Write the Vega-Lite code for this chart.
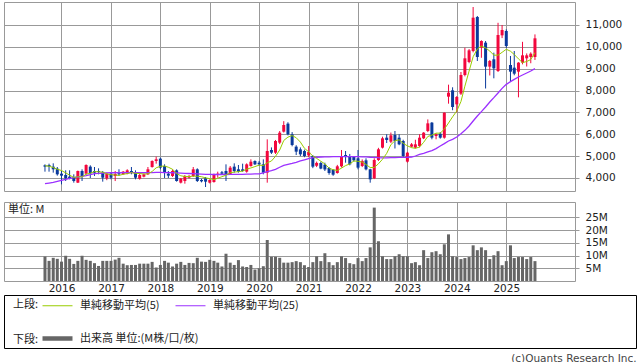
{
"$schema": "https://vega.github.io/schema/vega-lite/v6.json",
"padding": {"left": 3, "top": 1, "right": 0, "bottom": 0},
"background": "white",
"title": {"text": "(c)Quants Research Inc.", "orient": "bottom", "anchor": "end", "font": "DejaVu Sans", "fontSize": 10.5, "fontWeight": "normal", "color": "#444444", "offset": 5},
"config": {
  "view": {"stroke": "#999999", "strokeWidth": 1},
  "axis": {"labelFont": "DejaVu Sans", "labelFontSize": 10.5, "labelColor": "#222222", "gridColor": "#999999", "gridWidth": 1, "gridOpacity": 1, "tickColor": "#999999", "domain": false, "title": null},
  "legend": {"labelFont": "Noto Sans CJK JP", "labelFontSize": 11, "labelColor": "#222222", "titleFont": "Noto Sans CJK JP", "titleFontSize": 11, "titleFontWeight": "normal", "titleColor": "#222222"}
},
"datasets": {
"ohlc": [
{"date":"2015-09-01","open":4580,"high":4625,"low":4290,"close":4519,"ma5":4560,"ma25":3741,"vol":9.6},
{"date":"2015-10-01","open":4595,"high":4656,"low":4290,"close":4519,"ma5":4540,"ma25":3770,"vol":7.9},
{"date":"2015-11-01","open":4519,"high":4671,"low":4244,"close":4397,"ma5":4480,"ma25":3802,"vol":9.1},
{"date":"2015-12-01","open":4427,"high":4503,"low":4107,"close":4168,"ma5":4400,"ma25":3850,"vol":8.7},
{"date":"2016-01-01","open":4198,"high":4320,"low":3710,"close":4107,"ma5":4342,"ma25":3893,"vol":7.6},
{"date":"2016-02-01","open":4137,"high":4351,"low":3863,"close":3985,"ma5":4235,"ma25":3940,"vol":9.9},
{"date":"2016-03-01","open":4061,"high":4351,"low":3939,"close":4000,"ma5":4131,"ma25":3985,"vol":8.7},
{"date":"2016-04-01","open":4030,"high":4168,"low":3787,"close":3863,"ma5":4025,"ma25":4015,"vol":6.7},
{"date":"2016-05-01","open":3787,"high":4340,"low":3770,"close":4320,"ma5":4055,"ma25":4046,"vol":7.9},
{"date":"2016-06-01","open":4320,"high":4397,"low":3863,"close":4092,"ma5":4052,"ma25":4075,"vol":9.9},
{"date":"2016-07-01","open":4198,"high":4625,"low":4150,"close":4595,"ma5":4174,"ma25":4107,"vol":8.3},
{"date":"2016-08-01","open":4519,"high":4580,"low":4000,"close":4214,"ma5":4217,"ma25":4150,"vol":7.9},
{"date":"2016-09-01","open":4320,"high":4503,"low":4092,"close":4244,"ma5":4293,"ma25":4198,"vol":7.0},
{"date":"2016-10-01","open":4320,"high":4442,"low":4168,"close":4275,"ma5":4284,"ma25":4215,"vol":5.9},
{"date":"2016-11-01","open":4244,"high":4320,"low":3832,"close":4015,"ma5":4269,"ma25":4229,"vol":7.9},
{"date":"2016-12-01","open":3985,"high":4250,"low":3900,"close":4198,"ma5":4189,"ma25":4235,"vol":7.9},
{"date":"2017-01-01","open":4198,"high":4240,"low":3940,"close":4015,"ma5":4149,"ma25":4240,"vol":7.9},
{"date":"2017-02-01","open":4092,"high":4320,"low":3860,"close":4183,"ma5":4137,"ma25":4240,"vol":8.4},
{"date":"2017-03-01","open":4214,"high":4400,"low":4100,"close":4168,"ma5":4116,"ma25":4245,"vol":9.1},
{"date":"2017-04-01","open":4168,"high":4320,"low":4150,"close":4290,"ma5":4171,"ma25":4245,"vol":6.8},
{"date":"2017-05-01","open":4198,"high":4400,"low":4168,"close":4351,"ma5":4201,"ma25":4250,"vol":6.2},
{"date":"2017-06-01","open":4320,"high":4503,"low":4168,"close":4229,"ma5":4244,"ma25":4250,"vol":6.3},
{"date":"2017-07-01","open":4244,"high":4351,"low":3939,"close":4015,"ma5":4211,"ma25":4245,"vol":6.3},
{"date":"2017-08-01","open":3970,"high":4200,"low":3924,"close":4137,"ma5":4204,"ma25":4240,"vol":6.8},
{"date":"2017-09-01","open":4061,"high":4200,"low":4030,"close":4168,"ma5":4180,"ma25":4240,"vol":6.8},
{"date":"2017-10-01","open":4168,"high":4503,"low":4137,"close":4397,"ma5":4189,"ma25":4245,"vol":6.8},
{"date":"2017-11-01","open":4503,"high":4808,"low":4473,"close":4778,"ma5":4299,"ma25":4250,"vol":7.5},
{"date":"2017-12-01","open":4778,"high":4976,"low":4656,"close":4854,"ma5":4467,"ma25":4255,"vol":5.3},
{"date":"2018-01-01","open":4885,"high":4930,"low":4397,"close":4473,"ma5":4534,"ma25":4255,"vol":6.3},
{"date":"2018-02-01","open":4549,"high":4625,"low":4000,"close":4244,"ma5":4549,"ma25":4250,"vol":7.9},
{"date":"2018-03-01","open":4198,"high":4320,"low":4000,"close":4107,"ma5":4491,"ma25":4245,"vol":7.2},
{"date":"2018-04-01","open":4092,"high":4397,"low":4046,"close":4320,"ma5":4400,"ma25":4240,"vol":5.7},
{"date":"2018-05-01","open":4351,"high":4397,"low":3832,"close":3863,"ma5":4201,"ma25":4230,"vol":6.8},
{"date":"2018-06-01","open":3787,"high":4000,"low":3750,"close":3970,"ma5":4101,"ma25":4220,"vol":7.5},
{"date":"2018-07-01","open":3863,"high":4137,"low":3740,"close":4092,"ma5":4070,"ma25":4210,"vol":6.3},
{"date":"2018-08-01","open":4015,"high":4137,"low":3980,"close":4092,"ma5":4067,"ma25":4205,"vol":7.1},
{"date":"2018-09-01","open":4092,"high":4503,"low":4046,"close":4397,"ma5":4083,"ma25":4200,"vol":7.0},
{"date":"2018-10-01","open":4397,"high":4442,"low":3817,"close":3863,"ma5":4083,"ma25":4190,"vol":9.1},
{"date":"2018-11-01","open":3909,"high":3960,"low":3800,"close":3848,"ma5":4058,"ma25":4180,"vol":7.6},
{"date":"2018-12-01","open":3985,"high":4046,"low":3588,"close":3832,"ma5":4006,"ma25":4170,"vol":7.5},
{"date":"2019-01-01","open":3787,"high":3940,"low":3750,"close":3909,"ma5":3970,"ma25":4165,"vol":8.3},
{"date":"2019-02-01","open":3817,"high":4198,"low":3787,"close":4168,"ma5":3924,"ma25":4160,"vol":7.9},
{"date":"2019-03-01","open":4137,"high":4290,"low":4015,"close":4198,"ma5":3991,"ma25":4160,"vol":7.2},
{"date":"2019-04-01","open":4259,"high":4320,"low":4137,"close":4198,"ma5":4061,"ma25":4160,"vol":5.7},
{"date":"2019-05-01","open":4320,"high":4625,"low":3863,"close":4168,"ma5":4128,"ma25":4160,"vol":10.7},
{"date":"2019-06-01","open":4168,"high":4549,"low":4137,"close":4473,"ma5":4241,"ma25":4165,"vol":7.2},
{"date":"2019-07-01","open":4519,"high":4671,"low":4244,"close":4320,"ma5":4271,"ma25":4165,"vol":6.3},
{"date":"2019-08-01","open":4397,"high":4595,"low":4244,"close":4290,"ma5":4290,"ma25":4170,"vol":8.2},
{"date":"2019-09-01","open":4397,"high":4656,"low":4290,"close":4320,"ma5":4314,"ma25":4170,"vol":5.7},
{"date":"2019-10-01","open":4290,"high":4671,"low":4244,"close":4625,"ma5":4406,"ma25":4175,"vol":5.5},
{"date":"2019-11-01","open":4549,"high":4854,"low":4519,"close":4747,"ma5":4460,"ma25":4180,"vol":6.3},
{"date":"2019-12-01","open":4778,"high":4808,"low":4595,"close":4625,"ma5":4521,"ma25":4185,"vol":4.5},
{"date":"2020-01-01","open":4700,"high":4780,"low":4550,"close":4625,"ma5":4588,"ma25":4190,"vol":5.0},
{"date":"2020-02-01","open":4625,"high":4854,"low":4168,"close":4244,"ma5":4573,"ma25":4229,"vol":5.8},
{"date":"2020-03-01","open":4244,"high":5769,"low":3786,"close":5235,"ma5":4695,"ma25":4290,"vol":16.1},
{"date":"2020-04-01","open":5281,"high":5400,"low":5100,"close":5159,"ma5":4778,"ma25":4340,"vol":9.5},
{"date":"2020-05-01","open":5159,"high":5740,"low":5100,"close":5693,"ma5":4991,"ma25":4397,"vol":9.5},
{"date":"2020-06-01","open":5617,"high":6150,"low":5550,"close":6074,"ma5":5281,"ma25":4490,"vol":9.1},
{"date":"2020-07-01","open":6120,"high":6600,"low":6080,"close":6425,"ma5":5717,"ma25":4580,"vol":7.2},
{"date":"2020-08-01","open":6486,"high":6550,"low":5950,"close":5998,"ma5":5870,"ma25":4625,"vol":7.2},
{"date":"2020-09-01","open":5998,"high":6100,"low":5450,"close":5510,"ma5":5940,"ma25":4671,"vol":7.4},
{"date":"2020-10-01","open":5434,"high":5500,"low":5050,"close":5205,"ma5":5842,"ma25":4720,"vol":7.8},
{"date":"2020-11-01","open":5310,"high":5400,"low":5000,"close":5083,"ma5":5644,"ma25":4778,"vol":7.4},
{"date":"2020-12-01","open":5235,"high":5300,"low":4950,"close":5006,"ma5":5360,"ma25":4830,"vol":6.2},
{"date":"2021-01-01","open":5037,"high":5464,"low":4950,"close":5190,"ma5":5199,"ma25":4885,"vol":5.5},
{"date":"2021-02-01","open":5006,"high":5050,"low":4450,"close":4519,"ma5":5001,"ma25":4930,"vol":7.4},
{"date":"2021-03-01","open":4560,"high":4750,"low":4500,"close":4690,"ma5":4898,"ma25":4950,"vol":9.7},
{"date":"2021-04-01","open":4686,"high":4750,"low":4400,"close":4430,"ma5":4767,"ma25":4960,"vol":7.8},
{"date":"2021-05-01","open":4610,"high":4700,"low":4320,"close":4390,"ma5":4644,"ma25":4965,"vol":10.9},
{"date":"2021-06-01","open":4457,"high":4500,"low":4150,"close":4229,"ma5":4452,"ma25":4970,"vol":7.4},
{"date":"2021-07-01","open":4381,"high":4400,"low":4100,"close":4152,"ma5":4378,"ma25":4975,"vol":6.2},
{"date":"2021-08-01","open":4229,"high":4600,"low":4200,"close":4534,"ma5":4347,"ma25":4975,"vol":7.4},
{"date":"2021-09-01","open":4534,"high":5281,"low":4480,"close":4960,"ma5":4453,"ma25":4980,"vol":9.7},
{"date":"2021-10-01","open":5052,"high":5235,"low":4700,"close":4961,"ma5":4567,"ma25":4980,"vol":9.0},
{"date":"2021-11-01","open":5006,"high":5100,"low":4580,"close":4625,"ma5":4646,"ma25":4980,"vol":7.0},
{"date":"2021-12-01","open":4961,"high":5000,"low":4750,"close":4808,"ma5":4778,"ma25":4980,"vol":6.6},
{"date":"2022-01-01","open":4900,"high":5281,"low":4397,"close":4473,"ma5":4765,"ma25":4975,"vol":9.0},
{"date":"2022-02-01","open":4550,"high":4850,"low":4500,"close":4780,"ma5":4729,"ma25":4970,"vol":7.8},
{"date":"2022-03-01","open":4808,"high":4900,"low":4350,"close":4397,"ma5":4617,"ma25":4965,"vol":9.0},
{"date":"2022-04-01","open":4397,"high":4420,"low":3786,"close":3939,"ma5":4479,"ma25":4950,"vol":13.2},
{"date":"2022-05-01","open":3985,"high":4900,"low":3950,"close":4824,"ma5":4483,"ma25":4940,"vol":28.8},
{"date":"2022-06-01","open":4824,"high":5380,"low":4780,"close":5312,"ma5":4650,"ma25":4930,"vol":15.6},
{"date":"2022-07-01","open":5388,"high":5890,"low":5350,"close":5815,"ma5":4857,"ma25":4925,"vol":9.7},
{"date":"2022-08-01","open":5845,"high":6000,"low":5600,"close":5739,"ma5":5126,"ma25":4925,"vol":8.6},
{"date":"2022-09-01","open":5662,"high":6080,"low":5600,"close":5952,"ma5":5528,"ma25":4930,"vol":8.6},
{"date":"2022-10-01","open":5967,"high":6150,"low":5350,"close":5693,"ma5":5702,"ma25":4935,"vol":9.7},
{"date":"2022-11-01","open":5845,"high":6000,"low":5500,"close":5540,"ma5":5748,"ma25":4940,"vol":10.5},
{"date":"2022-12-01","open":5693,"high":5750,"low":4930,"close":5006,"ma5":5586,"ma25":4945,"vol":9.7},
{"date":"2023-01-01","open":4747,"high":5200,"low":4700,"close":5159,"ma5":5470,"ma25":4950,"vol":9.7},
{"date":"2023-02-01","open":5434,"high":5600,"low":5400,"close":5540,"ma5":5388,"ma25":4960,"vol":7.0},
{"date":"2023-03-01","open":5388,"high":5750,"low":5350,"close":5540,"ma5":5357,"ma25":5006,"vol":7.4},
{"date":"2023-04-01","open":5464,"high":6000,"low":5400,"close":5845,"ma5":5418,"ma25":5083,"vol":6.2},
{"date":"2023-05-01","open":5815,"high":6100,"low":5780,"close":6074,"ma5":5632,"ma25":5128,"vol":12.1},
{"date":"2023-06-01","open":6150,"high":6680,"low":6100,"close":6500,"ma5":5900,"ma25":5190,"vol":9.0},
{"date":"2023-07-01","open":6532,"high":6560,"low":5770,"close":5845,"ma5":5961,"ma25":5250,"vol":11.3},
{"date":"2023-08-01","open":5922,"high":6050,"low":5770,"close":5998,"ma5":6052,"ma25":5342,"vol":11.7},
{"date":"2023-09-01","open":6028,"high":6100,"low":5800,"close":5845,"ma5":6052,"ma25":5464,"vol":10.5},
{"date":"2023-10-01","open":5845,"high":7000,"low":5800,"close":6989,"ma5":6235,"ma25":5571,"vol":14.4},
{"date":"2023-11-01","open":7721,"high":8270,"low":7400,"close":7904,"ma5":6516,"ma25":5693,"vol":18.3},
{"date":"2023-12-01","open":8011,"high":8150,"low":7100,"close":7248,"ma5":6797,"ma25":5769,"vol":9.7},
{"date":"2024-01-01","open":7370,"high":7750,"low":7000,"close":7706,"ma5":7065,"ma25":5876,"vol":9.4},
{"date":"2024-02-01","open":7858,"high":8850,"low":7800,"close":8712,"ma5":7500,"ma25":6028,"vol":8.6},
{"date":"2024-03-01","open":8712,"high":9960,"low":8650,"close":9475,"ma5":8200,"ma25":6180,"vol":9.0},
{"date":"2024-04-01","open":9307,"high":9900,"low":9250,"close":9841,"ma5":8890,"ma25":6379,"vol":9.4},
{"date":"2024-05-01","open":9810,"high":11823,"low":9750,"close":11335,"ma5":9550,"ma25":6608,"vol":14.0},
{"date":"2024-06-01","open":11366,"high":11412,"low":9353,"close":9536,"ma5":9900,"ma25":6837,"vol":12.1},
{"date":"2024-07-01","open":9963,"high":10300,"low":9500,"close":10268,"ma5":10040,"ma25":7035,"vol":13.2},
{"date":"2024-08-01","open":10192,"high":10268,"low":8095,"close":9094,"ma5":9950,"ma25":7248,"vol":12.1},
{"date":"2024-09-01","open":9094,"high":9400,"low":8690,"close":9353,"ma5":9810,"ma25":7477,"vol":8.6},
{"date":"2024-10-01","open":9430,"high":9734,"low":8560,"close":9017,"ma5":9620,"ma25":7675,"vol":10.1},
{"date":"2024-11-01","open":8895,"high":11100,"low":8850,"close":10542,"ma5":9620,"ma25":7889,"vol":11.7},
{"date":"2024-12-01","open":10527,"high":11000,"low":10400,"close":10771,"ma5":9750,"ma25":8102,"vol":6.2},
{"date":"2025-01-01","open":10725,"high":10800,"low":9950,"close":10039,"ma5":9890,"ma25":8285,"vol":7.8},
{"date":"2025-02-01","open":9170,"high":9582,"low":8430,"close":8865,"ma5":9800,"ma25":8407,"vol":14.0},
{"date":"2025-03-01","open":9048,"high":9810,"low":8700,"close":8773,"ma5":9650,"ma25":8514,"vol":9.0},
{"date":"2025-04-01","open":8865,"high":9300,"low":7690,"close":9277,"ma5":9450,"ma25":8620,"vol":9.4},
{"date":"2025-05-01","open":9277,"high":10230,"low":9200,"close":9612,"ma5":9277,"ma25":8712,"vol":9.4},
{"date":"2025-06-01","open":9475,"high":9700,"low":9100,"close":9612,"ma5":9330,"ma25":8804,"vol":8.6},
{"date":"2025-07-01","open":9536,"high":9750,"low":9250,"close":9688,"ma5":9420,"ma25":8895,"vol":9.4},
{"date":"2025-08-01","open":9536,"high":10570,"low":9400,"close":10390,"ma5":9734,"ma25":9002,"vol":7.8}
]
},
"vconcat": [
  {
    "spacing": 11,
    "bounds": "flush",
    "resolve": {"scale": {"x": "independent", "y": "independent"}},
    "vconcat": [
      {
        "width": 571, "height": 189,
        "data": {"name": "ohlc"},
        "encoding": {
          "x": {"field": "date", "type": "temporal",
                "scale": {"type": "utc", "nice": false, "domain": [{"year": 2014, "month": 12, "date": 9, "utc": true}, {"year": 2026, "month": 4, "date": 17, "utc": true}]},
                "axis": {"orient": "bottom", "labels": false, "ticks": false, "domain": false, "grid": true, "title": null,
                         "values": [{"year":2016,"month":1,"date":1,"utc":true},{"year":2017,"month":1,"date":1,"utc":true},{"year":2018,"month":1,"date":1,"utc":true},{"year":2019,"month":1,"date":1,"utc":true},{"year":2020,"month":1,"date":1,"utc":true},{"year":2021,"month":1,"date":1,"utc":true},{"year":2022,"month":1,"date":1,"utc":true},{"year":2023,"month":1,"date":1,"utc":true},{"year":2024,"month":1,"date":1,"utc":true},{"year":2025,"month":1,"date":1,"utc":true}]}}
        },
        "layer": [
          {
            "mark": {"type": "rule", "strokeWidth": 1},
            "encoding": {
              "y": {"field": "low", "type": "quantitative", "scale": {"domain": [3405, 12052], "nice": false, "zero": false},
                    "axis": {"orient": "right", "title": null, "values": [4000,5000,6000,7000,8000,9000,10000,11000], "format": ",.0f", "grid": true, "ticks": true, "tickSize": 4, "labelPadding": 6}},
              "y2": {"field": "high"},
              "color": {"condition": {"test": "datum.close >= datum.open", "value": "#f2073d"}, "value": "#0a3a9c"}
            }
          },
          {
            "mark": {"type": "bar", "size": 3},
            "encoding": {
              "y": {"field": "open", "type": "quantitative",
                    "axis": {"orient": "right", "title": null, "values": [4000,5000,6000,7000,8000,9000,10000,11000], "format": ",.0f", "grid": true, "ticks": true, "tickSize": 4, "labelPadding": 6}},
              "y2": {"field": "close"},
              "color": {"condition": {"test": "datum.close >= datum.open", "value": "#f2073d"}, "value": "#0a3a9c"}
            }
          },
          {
            "mark": {"type": "line", "color": "#9b30ff", "strokeWidth": 1.3},
            "encoding": {"y": {"field": "ma25", "type": "quantitative",
                    "axis": {"orient": "right", "title": null, "values": [4000,5000,6000,7000,8000,9000,10000,11000], "format": ",.0f", "grid": true, "ticks": true, "tickSize": 4, "labelPadding": 6}}}
          },
          {
            "mark": {"type": "line", "color": "#99cc00", "strokeWidth": 1},
            "encoding": {"y": {"field": "ma5", "type": "quantitative",
                    "axis": {"orient": "right", "title": null, "values": [4000,5000,6000,7000,8000,9000,10000,11000], "format": ",.0f", "grid": true, "ticks": true, "tickSize": 4, "labelPadding": 6}}}
          }
        ]
      },
      {
        "width": 571, "height": 79,
        "data": {"name": "ohlc"},
        "title": {"text": "単位: M", "anchor": "start", "orient": "top", "offset": -13, "dx": 4, "font": "Noto Sans CJK JP", "fontSize": 11, "fontWeight": "normal", "color": "#222222"},
        "mark": {"type": "bar", "size": 3, "color": "#666666"},
        "encoding": {
          "x": {"field": "date", "type": "temporal",
                "scale": {"type": "utc", "nice": false, "domain": [{"year": 2014, "month": 12, "date": 9, "utc": true}, {"year": 2026, "month": 4, "date": 17, "utc": true}]},
                "axis": {"orient": "bottom", "format": "%Y", "ticks": false, "domain": false, "grid": true, "title": null, "labelPadding": 2, "labelFlush": false, "labelAlign": "center",
                         "values": [{"year":2016,"month":1,"date":1,"utc":true},{"year":2017,"month":1,"date":1,"utc":true},{"year":2018,"month":1,"date":1,"utc":true},{"year":2019,"month":1,"date":1,"utc":true},{"year":2020,"month":1,"date":1,"utc":true},{"year":2021,"month":1,"date":1,"utc":true},{"year":2022,"month":1,"date":1,"utc":true},{"year":2023,"month":1,"date":1,"utc":true},{"year":2024,"month":1,"date":1,"utc":true},{"year":2025,"month":1,"date":1,"utc":true}]}},
          "y": {"field": "vol", "type": "quantitative", "scale": {"domain": [0, 31], "nice": false},
                "axis": {"orient": "right", "title": null, "values": [5,10,15,20,25], "labelExpr": "datum.value + 'M'", "grid": true, "ticks": true, "tickSize": 4, "labelPadding": 6}}
        }
      }
    ]
  },
  {
    "width": 632, "height": 53,
    "view": {"stroke": "#000000", "strokeWidth": 1},
    "layer": [
      {
        "data": {"values": [{"series": "単純移動平均(5)"}, {"series": "単純移動平均(25)"}]},
        "mark": {"type": "point", "size": 0, "filled": false},
        "encoding": {
          "color": {"field": "series", "type": "nominal",
                    "scale": {"domain": ["単純移動平均(5)", "単純移動平均(25)"], "range": ["#99cc00", "#9b30ff"]},
                    "legend": {"orient": "none", "legendX": 9, "legendY": 5, "direction": "horizontal", "title": "上段:", "titleOrient": "left", "titlePadding": 13,
                               "symbolType": "M-5,0H5", "symbolSize": 36, "symbolStrokeWidth": 1, "symbolOpacity": 1, "labelOffset": 17, "columnPadding": 13}}
        }
      },
      {
        "data": {"values": [{"item": "出来高 単位:(M株/口/枚)"}]},
        "mark": {"type": "point", "size": 0, "filled": false},
        "encoding": {
          "stroke": {"field": "item", "type": "nominal",
                     "scale": {"domain": ["出来高 単位:(M株/口/枚)"], "range": ["#666666"]},
                     "legend": {"orient": "none", "legendX": 9, "legendY": 38, "direction": "horizontal", "title": "下段:", "titleOrient": "left", "titlePadding": 13,
                                "symbolType": "M-5,0H5", "symbolSize": 36, "symbolStrokeWidth": 4.5, "symbolOpacity": 1, "labelOffset": 17}}
        }
      }
    ]
  }
],
"spacing": 0,
"resolve": {"scale": {"x": "independent", "y": "independent", "color": "independent", "stroke": "independent"}}
}
